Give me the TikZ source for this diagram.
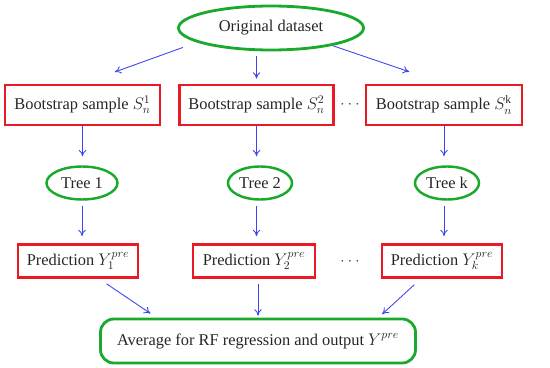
\documentclass[tikz,border=0pt]{standalone}
\usepackage{fontspec}
\setmainfont{Liberation Serif}
\usetikzlibrary{arrows.meta,shapes.geometric}
\definecolor{rfgreen}{RGB}{25,170,45}
\definecolor{rfred}{RGB}{235,25,35}
\definecolor{rfblue}{RGB}{60,70,240}

\begin{document}
\begin{tikzpicture}[x=0.03cm, y=-0.03cm, font=\fontsize{14}{16}\selectfont,
  >={To[length=5.5pt,width=6.5pt]},
  ell/.style={ellipse, draw=rfgreen, line width=2.4pt, inner sep=0pt, text=black!85},
  rbox/.style={rectangle, draw=rfred, line width=2.4pt, inner sep=0pt, text=black!85},
  arr/.style={->, draw=rfblue, line width=0.75pt}]
  \useasboundingbox (0,0) rectangle (550,368);

  % top and bottom
  \node[ell, minimum width=5.55cm, minimum height=1.32cm] (orig) at (271,28) {Original dataset};
  \node[rbox, draw=rfgreen, rounded corners=0.4cm, minimum width=9.45cm, minimum height=1.32cm]
    (avg) at (258,341) {Average for RF regression and output $Y^{pre}$};

  % bootstrap samples
  \node[rbox, minimum width=4.65cm, minimum height=1.2cm] (boot1) at (82.5,105) {Bootstrap sample $S_n^1$};
  \node[rbox, minimum width=4.6cm, minimum height=1.2cm] (boot2) at (256.5,105) {Bootstrap sample $S_n^2$};
  \node[rbox, minimum width=4.68cm, minimum height=1.2cm] (bootk) at (444,105) {Bootstrap sample $S_n^{\mathrm{k}}$};
  \node[text=black!70] (dots1) at (350,105) {$\cdots$};

  % trees
  \node[ell, line width=2.1pt, minimum width=2.13cm, minimum height=0.99cm] (tree1) at (82,183) {Tree 1};
  \node[ell, line width=2.1pt, minimum width=1.92cm, minimum height=0.99cm] (tree2) at (260,183) {Tree 2};
  \node[ell, line width=2.1pt, minimum width=1.92cm, minimum height=0.99cm] (treek) at (447,183) {Tree k};

  % predictions
  \node[rbox, minimum width=3.6cm, minimum height=0.99cm] (pred1) at (78,261) {Prediction $Y_1^{pre}$};
  \node[rbox, minimum width=3.66cm, minimum height=0.99cm] (pred2) at (254,261) {Prediction $Y_2^{pre}$};
  \node[rbox, minimum width=3.6cm, minimum height=0.99cm] (predk) at (442,261) {Prediction $Y_k^{pre}$};
  \node[text=black!70] (dots2) at (350,262) {$\cdots$};

  \draw[arr, shorten <=0.45cm, shorten >=1.03cm] (orig.191) -- (boot1.north);
  \draw[arr, shorten <=0.15cm, shorten >=0.15cm] (boot2.north |- orig.south) -- (boot2.north);
  \draw[arr, shorten <=0.02cm, shorten >=1.1cm] (orig.344) -- (bootk.north);

  \draw[arr, shorten >=0.27cm] (boot1.south) -- (boot1.south |- tree1.north);
  \draw[arr, shorten >=0.27cm] (boot2.south) -- (boot2.south |- tree2.north);
  \draw[arr, shorten >=0.27cm] (bootk.south) -- (bootk.south |- treek.north);

  \draw[arr, shorten <=0.15cm, shorten >=0.21cm] (tree1.south) -- (tree1.south |- pred1.north);
  \draw[arr, shorten <=0.15cm, shorten >=0.21cm] (boot2.south |- tree2.south) -- (boot2.south |- pred2.north);
  \draw[arr, shorten <=0.15cm, shorten >=0.21cm] (bootk.south |- treek.south) -- (bootk.south |- predk.north);

  \draw[arr, shorten <=0.26cm, shorten >=0.22cm] (pred1.-40) -- (avg.167.6);
  \draw[arr, shorten <=0.15cm, shorten >=0.06cm] (avg.north |- pred2.south) -- (avg.north);
  \draw[arr, shorten <=0.26cm, shorten >=0.15cm] (predk.220) -- (avg.11.3);
\end{tikzpicture}
\end{document}
